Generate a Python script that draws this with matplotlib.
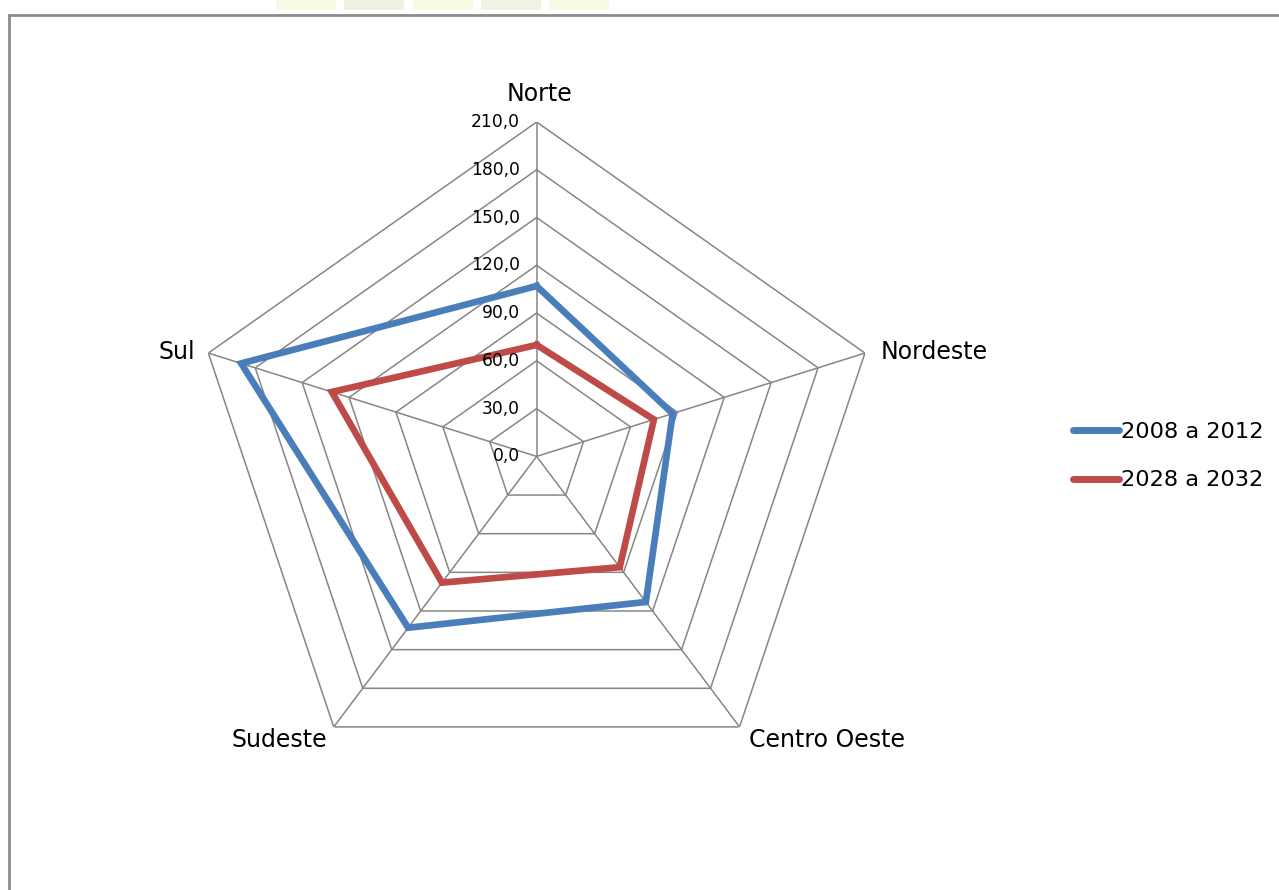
import matplotlib
matplotlib.use("Agg")
import numpy as np
import matplotlib.pyplot as plt
from matplotlib.lines import Line2D
from matplotlib.patches import Rectangle

# ---- data ----
categories = ["Norte", "Nordeste", "Centro Oeste", "Sudeste", "Sul"]
series_names = ["2008 a 2012", "2028 a 2032"]
values_2008_2012 = [107, 87, 113, 133, 189]
values_2028_2032 = [70, 75, 86, 98, 131]
r_ticks = [0, 30, 60, 90, 120, 150, 180, 210]
r_tick_labels = ["0,0", "30,0", "60,0", "90,0", "120,0", "150,0", "180,0", "210,0"]

# ---- style ----
BLUE = "#4A7EBB"
RED = "#BE4B48"
GRID = "#868686"
plt.rcParams["font.family"] = ["DejaVu Sans"]

W, H = 1279, 890
fig = plt.figure(figsize=(W / 100, H / 100), dpi=100)
fig.patch.set_facecolor("white")

# faint watermark blocks at the top
wm_cols = ["#F8F9E4", "#EEF1E3", "#F9FAE6", "#F0F3E4", "#F9FAE3"]
wm_x = [276, 344, 413, 481, 549]
for x0, c in zip(wm_x, wm_cols):
    fig.add_artist(Rectangle((x0 / W, 1 - 9.5 / H), 60 / W, 9.5 / H,
                             transform=fig.transFigure, color=c, lw=0, zorder=0))

# chart area border (top and left visible)
fig.add_artist(Line2D([9 / W, 1.0], [1 - 14.5 / H, 1 - 14.5 / H],
                      transform=fig.transFigure, color="#8C8C8C", lw=2.0))
fig.add_artist(Line2D([9 / W, 9 / W], [1 - 14.5 / H, 0.0],
                      transform=fig.transFigure, color="#8C8C8C", lw=2.0))

cx, cy = 536.65, 456.4
rx, ry = 345.2, 334.4
ax = fig.add_axes([(cx - rx) / W, (H - cy - ry) / H, 2 * rx / W, 2 * ry / H],
                  projection="polar")
ax.set_aspect("auto")
ax.set_theta_zero_location("N")
ax.set_theta_direction(-1)
ax.set_ylim(0, r_ticks[-1])
ax.grid(False)
ax.spines["polar"].set_visible(False)
ax.set_xticks([])
ax.set_yticks([])
ax.patch.set_visible(False)

n = len(categories)
theta = np.arange(n) * 2 * np.pi / n
theta_c = np.append(theta, theta[0])

# polygon grid
for r in r_ticks[1:]:
    ax.plot(theta_c, [r] * (n + 1), color=GRID, lw=1.1, zorder=1)
for t in theta:
    ax.plot([t, t], [0, r_ticks[-1]], color=GRID, lw=1.1, zorder=1)

# series
for vals, col in [(values_2008_2012, BLUE), (values_2028_2032, RED)]:
    v = list(vals) + [vals[0]]
    ax.plot(theta_c, v, color=col, lw=4.8, solid_joinstyle="miter", zorder=3)

# radial tick labels
for r, lbl in zip(r_ticks, r_tick_labels):
    ax.annotate(lbl, xy=(0, r), xytext=(-12, 0), textcoords="offset points",
                ha="right", va="center", fontsize=12.3, color="black")

# category labels
label_layout = [
    ((2, 20), "center", "center"),
    ((11, 1), "left", "center"),
    ((6.8, -9.4), "left", "center"),
    ((-4.8, -9.4), "right", "center"),
    ((-9.6, 1), "right", "center"),
]
for t, name, (off, ha, va) in zip(theta, categories, label_layout):
    ax.annotate(name, xy=(t, r_ticks[-1]), xytext=off, textcoords="offset points",
                ha=ha, va=va, fontsize=17, color="black")

# legend
handles = [Line2D([], [], color=BLUE, lw=5, solid_capstyle="round"),
           Line2D([], [], color=RED, lw=5, solid_capstyle="round")]
fig.legend(handles, series_names, loc="center left",
           bbox_to_anchor=(1073 / W, 1 - 456.4 / H), frameon=False,
           fontsize=16.2, handlelength=2.05, handletextpad=0.1,
           labelspacing=1.25, borderpad=0, borderaxespad=0)

fig.savefig("out.png", dpi=100, facecolor="white")
